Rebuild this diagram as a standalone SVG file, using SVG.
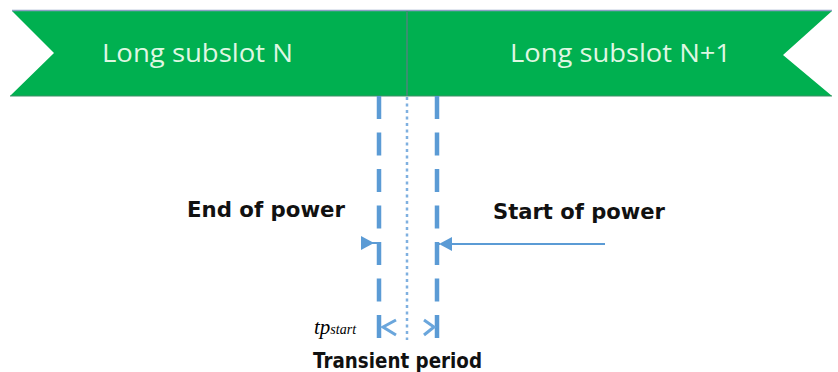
<svg xmlns="http://www.w3.org/2000/svg" width="838" height="372" viewBox="0 0 838 372">
<defs>
<style>
.band{fill:#00b050;}
.slot{font-family:"Open Sans","Liberation Sans",sans-serif;font-size:26px;fill:#dff7e2;}
.lbl{font-family:"DejaVu Sans","Liberation Sans",sans-serif;font-weight:bold;font-size:22px;fill:#111;}
.dash{stroke:#5b9bd5;stroke-width:4.5;fill:none;stroke-dasharray:23 13.5;}
.dot{stroke:#7fb0e0;stroke-width:2.5;fill:none;stroke-dasharray:3 3.5;}
.arr{stroke:#5b9bd5;stroke-width:2;fill:none;}
.dim{stroke:#6aa6dc;stroke-width:3;fill:none;}
.head{fill:#5b9bd5;}
</style>
</defs>
<g id="band">
<polygon class="band" points="12,11 407,11 832,11 783,55 832,96 407,96 10,96 54,53"/>
<line x1="12" y1="10.5" x2="832" y2="10.5" stroke="#8d9ec4" stroke-width="1.5"/>
<line x1="10" y1="96" x2="832" y2="96" stroke="#3f8f66" stroke-width="1"/>
<line x1="407" y1="11" x2="407" y2="96" stroke="#3a9070" stroke-width="2"/>
</g>
<g id="slotN"><text class="slot" x="102" y="62" textLength="191" lengthAdjust="spacingAndGlyphs">Long subslot N</text></g>
<g id="slotN1"><text class="slot" x="510" y="62" textLength="221" lengthAdjust="spacingAndGlyphs">Long subslot N+1</text></g>
<g id="connectors">
<line class="dash" x1="379" y1="96" x2="379" y2="338"/>
<line class="dash" x1="437" y1="96" x2="437" y2="338"/>
<line class="dot" x1="407" y1="97" x2="407" y2="340"/>
<polygon class="head" points="361,236 374,243 361,250"/>
<line class="arr" x1="372" y1="243" x2="381" y2="243"/>
<line class="arr" x1="450" y1="244" x2="605" y2="244"/>
<polygon class="head" points="439,244 452,237 452,251"/>
<line class="arr" x1="435" y1="244" x2="440" y2="244"/>
<polyline class="dim" points="396,320 383,327 396,335"/>
<polyline class="dim" points="424,320 434,327 424,335"/>
</g>
<g id="endpower"><text class="lbl" x="187" y="217" textLength="158" lengthAdjust="spacingAndGlyphs">End of power</text></g>
<g id="startpower"><text class="lbl" x="493" y="219" textLength="172" lengthAdjust="spacingAndGlyphs">Start of power</text></g>
<g id="tpstart"><text x="314" y="334" font-family="Liberation Serif,serif" font-style="italic" font-size="21" fill="#000">tp<tspan font-size="14">start</tspan></text></g>
<g id="transient"><text class="lbl" x="313" y="368" textLength="169" lengthAdjust="spacingAndGlyphs">Transient period</text></g>
</svg>
